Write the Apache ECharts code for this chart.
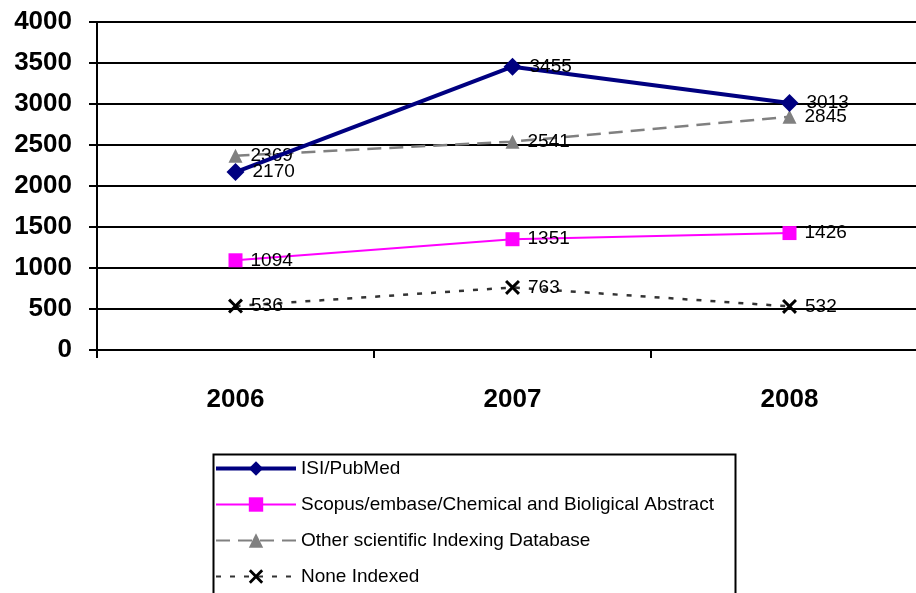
<!DOCTYPE html>
<html>
<head>
<meta charset="utf-8">
<script src="https://cdn.jsdelivr.net/npm/echarts@6/dist/echarts.min.js"></script>
<style>
  html, body { margin: 0; padding: 0; background: #fff; }
  #chart { width: 916px; height: 593px; }
</style>
</head>
<body>
<div id="chart"></div>
<script>
// line chart: indexed publications per year
const years = ['2006', '2007', '2008'];
const isiPubmed = [2170, 3455, 3013];
const scopus = [1094, 1351, 1426];
const otherDb = [2369, 2541, 2845];
const noneIndexed = [536, 763, 532];
const yTicks = { min: 0, max: 4000, interval: 500 };

const crossPath = 'path://M0,1.4L1.4,0L5,3.6L8.6,0L10,1.4L6.4,5L10,8.6L8.6,10L5,6.4L1.4,10L0,8.6L3.6,5Z';
const font = 'Liberation Sans, Arial, sans-serif';

const labelStyle = {
    show: true,
    position: 'right',
    distance: 8,
    color: '#000',
    fontSize: 19,
    fontFamily: font
};

const myChart = echarts.init(document.getElementById('chart'));
const option = {
    animation: false,
    backgroundColor: '#fff',
    // plot area runs past the right edge like in the original
    grid: { left: 97, top: 22, width: 831, height: 328, outerBoundsMode: 'none', containLabel: false },
    // legend box border drawn separately so the legend doesn't wrap
    graphic: [{
        type: 'rect',
        left: 211,
        top: 452,
        shape: { width: 522, height: 160 },
        style: { fill: 'none', stroke: '#000', lineWidth: 2 }
    }],
    legend: {
        orient: 'vertical',
        left: 214,
        top: 459,
        padding: 0,
        itemWidth: 80,
        itemHeight: 18,
        itemGap: 17,
        textStyle: { fontSize: 19, fontFamily: font, color: '#000' },
        data: [
            { name: 'ISI/PubMed', lineStyle: { width: 4 } },
            { name: 'Scopus/embase/Chemical and Bioligical Abstract' },
            { name: 'Other scientific Indexing Database' },
            { name: 'None Indexed' }
        ]
    },
    xAxis: {
        type: 'category',
        data: years,
        boundaryGap: true,
        axisLine: { lineStyle: { color: '#000', width: 2 } },
        axisTick: { show: true, length: 8, lineStyle: { color: '#000', width: 2 } },
        axisLabel: { margin: 37, fontSize: 26, fontWeight: 'bold', fontFamily: font, color: '#000' }
    },
    yAxis: {
        type: 'value',
        min: yTicks.min,
        max: yTicks.max,
        interval: yTicks.interval,
        axisLine: { show: true, lineStyle: { color: '#000', width: 2 } },
        axisTick: { show: true, length: 8, lineStyle: { color: '#000', width: 2 } },
        axisLabel: {
            margin: 25, fontSize: 26, fontWeight: 'bold', fontFamily: font, color: '#000',
            formatter: v => String(v)
        },
        splitLine: { lineStyle: { color: '#000', width: 2 } }
    },
    series: [
        {
            name: 'ISI/PubMed',
            type: 'line',
            data: isiPubmed,
            z: 5,
            symbol: 'diamond',
            symbolSize: 18,
            itemStyle: { color: '#000080' },
            lineStyle: { color: '#000080', width: 4 },
            label: labelStyle
        },
        {
            name: 'Scopus/embase/Chemical and Bioligical Abstract',
            type: 'line',
            data: scopus,
            symbol: 'rect',
            symbolSize: 14,
            itemStyle: { color: '#ff00ff' },
            lineStyle: { color: '#ff00ff', width: 2 },
            label: labelStyle
        },
        {
            name: 'Other scientific Indexing Database',
            type: 'line',
            data: otherDb,
            symbol: 'triangle',
            symbolSize: 14,
            itemStyle: { color: '#808080' },
            lineStyle: { color: '#808080', width: 2.5, type: [14, 8] },
            label: labelStyle
        },
        {
            name: 'None Indexed',
            type: 'line',
            data: noneIndexed,
            symbol: crossPath,
            symbolSize: 15,
            itemStyle: { color: '#000' },
            lineStyle: { color: '#333', width: 2.5, type: [5, 9] },
            label: labelStyle
        }
    ]
};
myChart.setOption(option);
</script>
</body>
</html>
